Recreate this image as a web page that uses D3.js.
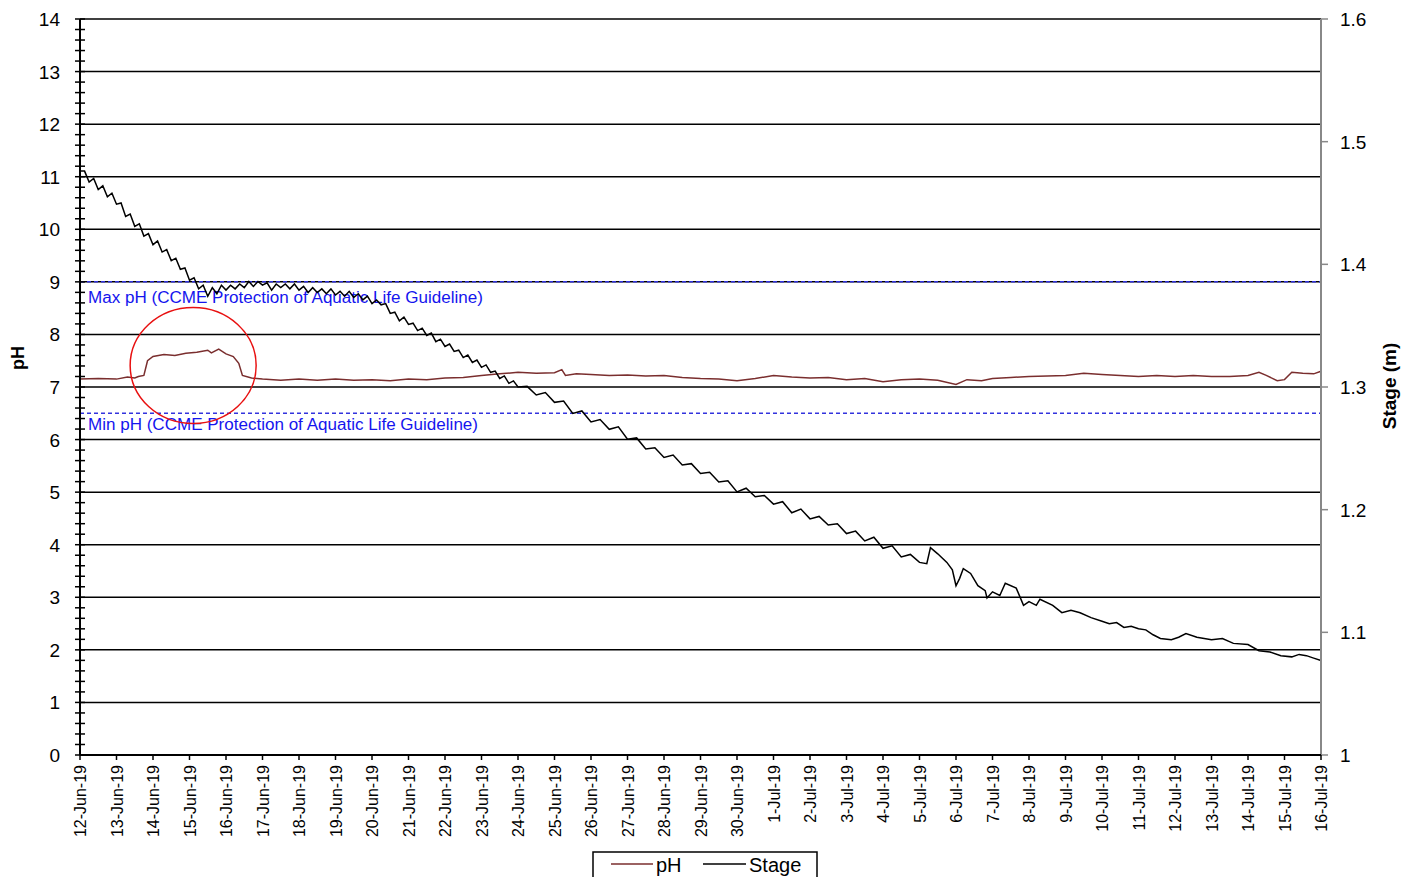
<!DOCTYPE html>
<html lang="en">
<head>
    <meta charset="UTF-8">
    <title>pH and Stage</title>
    <style>
        body { margin: 0; background: #fff; }
        text { font-family: "Liberation Sans", Arial, sans-serif; }
    </style>
</head>
<body>
    <script src="https://d3js.org/d3.v7.min.js"></script>
    <script>
        // Data: days after 12-Jun-19 00:00 and values
        var phDays = [0, 0.5, 1.0, 1.3, 1.5, 1.6, 1.75, 1.85, 2.0, 2.3, 2.6, 2.9, 3.2, 3.5, 3.6, 3.8, 4.0, 4.2, 4.35, 4.45, 4.7,
            5.0, 5.5, 6.0, 6.5, 7.0, 7.5, 8.0, 8.5, 9.0, 9.5, 10.0, 10.5, 11.0, 11.5, 12.0, 12.5, 13.0, 13.2, 13.3, 13.6,
            14.0, 14.5, 15.0, 15.5, 16.0, 16.5, 17.0, 17.5, 18.0, 18.5, 19.0, 19.5, 20.0, 20.5, 21.0, 21.5, 22.0, 22.5,
            23.0, 23.5, 24.0, 24.3, 24.7, 25.0, 25.5, 26.0, 26.5, 27.0, 27.5, 28.0, 28.5, 29.0, 29.5, 30.0, 30.5, 31.0,
            31.5, 32.0, 32.3, 32.5, 32.8, 33.0, 33.2, 33.5, 33.8, 34.0];
        var phValues = [7.15, 7.16, 7.15, 7.19, 7.17, 7.2, 7.22, 7.5, 7.58, 7.62, 7.6, 7.64, 7.66, 7.7, 7.65, 7.72, 7.63, 7.58, 7.45, 7.22, 7.17,
            7.15, 7.13, 7.15, 7.13, 7.15, 7.13, 7.14, 7.12, 7.15, 7.14, 7.17, 7.18, 7.22, 7.25, 7.28, 7.26, 7.27, 7.33, 7.22, 7.25,
            7.24, 7.22, 7.23, 7.21, 7.22, 7.18, 7.16, 7.15, 7.12, 7.16, 7.22, 7.19, 7.17, 7.18, 7.14, 7.16, 7.1, 7.14,
            7.15, 7.13, 7.05, 7.14, 7.12, 7.16, 7.18, 7.2, 7.21, 7.22, 7.26, 7.24, 7.22, 7.2, 7.22, 7.2, 7.22, 7.2,
            7.2, 7.22, 7.28, 7.22, 7.12, 7.14, 7.28, 7.26, 7.25, 7.3];

        var stageDays = [0, 0.125, 0.25, 0.375, 0.5, 0.625, 0.75, 0.875, 1, 1.125, 1.25, 1.375, 1.5, 1.625, 1.75, 1.875,
            2, 2.125, 2.25, 2.375, 2.5, 2.625, 2.75, 2.875, 3, 3.125, 3.25, 3.375, 3.5, 3.625, 3.75, 3.875,
            4, 4.125, 4.25, 4.375, 4.5, 4.625, 4.75, 4.875, 5, 5.125, 5.25, 5.375, 5.5, 5.625, 5.75, 5.875,
            6, 6.125, 6.25, 6.375, 6.5, 6.625, 6.75, 6.875, 7, 7.125, 7.25, 7.375, 7.5, 7.625, 7.75, 7.875,
            8, 8.125, 8.25, 8.375, 8.5, 8.625, 8.75, 8.875, 9, 9.125, 9.25, 9.375, 9.5, 9.625, 9.75, 9.875,
            10, 10.125, 10.25, 10.375, 10.5, 10.625, 10.75, 10.875, 11, 11.125, 11.25, 11.375, 11.5, 11.625, 11.75, 11.875,
            12, 12.25, 12.5, 12.75, 13, 13.25, 13.5, 13.75, 14, 14.25, 14.5, 14.75, 15, 15.25, 15.5, 15.75,
            16, 16.25, 16.5, 16.75, 17, 17.25, 17.5, 17.75, 18, 18.25, 18.5, 18.75, 19, 19.25, 19.5, 19.75,
            20, 20.25, 20.5, 20.75, 21, 21.25, 21.5, 21.75, 22, 22.25, 22.5, 22.75,
            23, 23.2, 23.3, 23.5, 23.75, 23.9, 24.0, 24.1, 24.2, 24.4, 24.6, 24.8, 24.85,
            25.0, 25.2, 25.35, 25.65, 25.85, 26.0, 26.2, 26.3, 26.65, 26.9, 27.15, 27.4, 27.7, 28.0, 28.2, 28.4,
            28.6, 28.8, 29.0, 29.2, 29.4, 29.6, 29.9, 30.1, 30.3, 30.6, 31.0, 31.3, 31.6, 32.0, 32.3, 32.6, 32.9,
            33.2, 33.4, 33.6, 33.8, 34.0];
        var stageValues = [1.476, 1.476, 1.467, 1.470, 1.461, 1.464, 1.455, 1.458, 1.449, 1.450, 1.439, 1.441, 1.431, 1.433, 1.423, 1.425,
            1.416, 1.419, 1.410, 1.412, 1.403, 1.405, 1.396, 1.397, 1.387, 1.389, 1.380, 1.383, 1.374, 1.381, 1.376, 1.383,
            1.379, 1.383, 1.380, 1.384, 1.381, 1.386, 1.382, 1.386, 1.383, 1.385, 1.379, 1.384, 1.381, 1.384, 1.380, 1.384,
            1.379, 1.382, 1.377, 1.381, 1.377, 1.380, 1.376, 1.380, 1.375, 1.378, 1.374, 1.378, 1.373, 1.376, 1.371, 1.374,
            1.368, 1.371, 1.367, 1.368, 1.360, 1.361, 1.354, 1.357, 1.351, 1.352, 1.346, 1.348, 1.342, 1.344, 1.337, 1.339,
            1.333, 1.335, 1.329, 1.330, 1.324, 1.326, 1.320, 1.322, 1.316, 1.318, 1.312, 1.313, 1.307, 1.309, 1.303, 1.305,
            1.300, 1.3005, 1.2935, 1.2955, 1.2875, 1.2885, 1.2785, 1.2805, 1.2715, 1.2735, 1.2655, 1.2675, 1.2575, 1.2585, 1.2495, 1.2505,
            1.2425, 1.2445, 1.2365, 1.2375, 1.2295, 1.2305, 1.2225, 1.2235, 1.2145, 1.2175, 1.2105, 1.2115, 1.2045, 1.2065, 1.1975, 1.2005,
            1.1925, 1.1945, 1.1875, 1.1885, 1.1805, 1.1825, 1.1745, 1.1775, 1.1685, 1.1705, 1.1615, 1.1635,
            1.157, 1.156, 1.169, 1.164, 1.157, 1.151, 1.138, 1.144, 1.152, 1.148, 1.138, 1.134, 1.128,
            1.133, 1.130, 1.140, 1.136, 1.122, 1.125, 1.122, 1.127, 1.122, 1.116, 1.118, 1.116, 1.112, 1.109, 1.107, 1.108,
            1.104, 1.105, 1.103, 1.102, 1.098, 1.095, 1.094, 1.096, 1.099, 1.096, 1.094, 1.095, 1.091, 1.090, 1.085, 1.084, 1.081,
            1.080, 1.082, 1.081, 1.079, 1.077];

        var phTicks = [0, 1, 2, 3, 4, 5, 6, 7, 8, 9, 10, 11, 12, 13, 14];
        var stageTicks = [1, 1.1, 1.2, 1.3, 1.4, 1.5, 1.6];
        var phMax = 9, phMin = 6.5;
        var maxLabel = "Max pH (CCME Protection of Aquatic Life Guideline)";
        var minLabel = "Min pH (CCME  Protection of Aquatic Life Guideline)";

        var width = 1411, height = 877;
        var plotLeft = 80, plotRight = 1321, plotTop = 19, plotBottom = 755;

        var start = new Date(2019, 5, 12);
        var end = new Date(2019, 6, 16);
        function toDate(d) { return new Date(start.getTime() + d * 864e5); }

        var x = d3.scaleTime().domain([start, end]).range([plotLeft, plotRight]);
        var yPh = d3.scaleLinear().domain([0, 14]).range([plotBottom, plotTop]);
        var yStage = d3.scaleLinear().domain([1, 1.6]).range([plotBottom, plotTop]);

        var svg = d3.select("body").append("svg")
            .attr("width", width)
            .attr("height", height);

        // gridlines at each pH unit
        svg.append("g").selectAll("line")
            .data(phTicks.filter(function (d) { return d > 0; }))
            .enter().append("line")
            .attr("x1", plotLeft).attr("x2", plotRight)
            .attr("y1", function (d) { return yPh(d); })
            .attr("y2", function (d) { return yPh(d); })
            .attr("stroke", "#000")
            .attr("stroke-width", 1.5);

        // guideline lines
        [phMax, phMin].forEach(function (v) {
            svg.append("line")
                .attr("x1", plotLeft).attr("x2", plotRight)
                .attr("y1", yPh(v)).attr("y2", yPh(v))
                .attr("stroke", "#3333dd")
                .attr("stroke-width", 1.5)
                .attr("stroke-dasharray", "4,3");
        });

        svg.append("text")
            .attr("x", 88).attr("y", yPh(phMax) + 21)
            .attr("fill", "#1515ee")
            .attr("font-size", 16)
            .attr("textLength", 395).attr("lengthAdjust", "spacingAndGlyphs")
            .text(maxLabel);
        svg.append("text")
            .attr("x", 88).attr("y", yPh(phMin) + 17)
            .attr("fill", "#1515ee")
            .attr("font-size", 16)
            .attr("textLength", 390).attr("lengthAdjust", "spacingAndGlyphs")
            .text(minLabel);

        // lines
        var phLine = d3.line()
            .x(function (d, i) { return x(toDate(phDays[i])); })
            .y(function (d) { return yPh(d); });
        var stageLine = d3.line()
            .x(function (d, i) { return x(toDate(stageDays[i])); })
            .y(function (d) { return yStage(d); });

        svg.append("path")
            .attr("d", phLine(phValues))
            .attr("fill", "none")
            .attr("stroke", "#7a2e2e")
            .attr("stroke-width", 1.5);

        svg.append("path")
            .attr("d", stageLine(stageValues))
            .attr("fill", "none")
            .attr("stroke", "#000")
            .attr("stroke-width", 1.5);

        // red circle around the pH bump
        svg.append("ellipse")
            .attr("cx", x(toDate(3.1)))
            .attr("cy", yPh(7.41))
            .attr("rx", 63).attr("ry", 58)
            .attr("fill", "none")
            .attr("stroke", "#e81010")
            .attr("stroke-width", 1.5);

        // left axis
        var leftAxis = svg.append("g");
        leftAxis.append("line")
            .attr("x1", plotLeft).attr("x2", plotLeft).attr("y1", plotTop).attr("y2", plotBottom)
            .attr("stroke", "#000").attr("stroke-width", 2);
        leftAxis.selectAll("line.minor")
            .data(d3.range(0, 70.5, 1).map(function (d) { return d / 5; }))
            .enter().append("line")
            .attr("class", "minor")
            .attr("x1", plotLeft - 5).attr("x2", plotLeft + 5)
            .attr("y1", function (d) { return yPh(d); })
            .attr("y2", function (d) { return yPh(d); })
            .attr("stroke", "#000").attr("stroke-width", 1.5);
        leftAxis.selectAll("text")
            .data(phTicks)
            .enter().append("text")
            .attr("x", 60).attr("y", function (d) { return yPh(d) + 7; })
            .attr("text-anchor", "end")
            .attr("font-size", 19)
            .text(function (d) { return d; });

        // right axis
        var rightAxis = svg.append("g");
        rightAxis.append("line")
            .attr("x1", plotRight).attr("x2", plotRight).attr("y1", plotTop).attr("y2", plotBottom)
            .attr("stroke", "#888").attr("stroke-width", 2);
        rightAxis.selectAll("line.tick")
            .data(stageTicks)
            .enter().append("line")
            .attr("class", "tick")
            .attr("x1", plotRight).attr("x2", plotRight + 7)
            .attr("y1", function (d) { return yStage(d); })
            .attr("y2", function (d) { return yStage(d); })
            .attr("stroke", "#888").attr("stroke-width", 1.5);
        rightAxis.selectAll("text")
            .data(stageTicks)
            .enter().append("text")
            .attr("x", 1340).attr("y", function (d) { return yStage(d) + 7; })
            .attr("font-size", 19)
            .text(function (d) { return d3.format(".1~f")(d); });

        // bottom axis
        var dayTicks = x.ticks(d3.timeDay.every(1));
        var fmt = d3.timeFormat("%-d-%b-%y");
        var bottomAxis = svg.append("g");
        bottomAxis.append("line")
            .attr("x1", plotLeft).attr("x2", plotRight).attr("y1", plotBottom).attr("y2", plotBottom)
            .attr("stroke", "#000").attr("stroke-width", 2);
        bottomAxis.selectAll("line.tick")
            .data(dayTicks)
            .enter().append("line")
            .attr("class", "tick")
            .attr("x1", function (d) { return x(d); })
            .attr("x2", function (d) { return x(d); })
            .attr("y1", plotBottom).attr("y2", plotBottom + 5)
            .attr("stroke", "#000").attr("stroke-width", 1.5);
        bottomAxis.selectAll("text")
            .data(dayTicks)
            .enter().append("text")
            .attr("transform", function (d) { return "translate(" + (x(d) + 6) + "," + (plotBottom + 10) + ") rotate(-90)"; })
            .attr("text-anchor", "end")
            .attr("font-size", 16)
            .text(function (d) { return fmt(d); });

        // axis titles
        svg.append("text")
            .attr("transform", "translate(24,358) rotate(-90)")
            .attr("text-anchor", "middle")
            .attr("font-size", 18).attr("font-weight", "bold")
            .text("pH");
        svg.append("text")
            .attr("transform", "translate(1396,386) rotate(-90)")
            .attr("text-anchor", "middle")
            .attr("font-size", 19).attr("font-weight", "bold")
            .text("Stage (m)");

        // legend
        var legend = svg.append("g");
        legend.append("rect")
            .attr("x", 593).attr("y", 852).attr("width", 224).attr("height", 32)
            .attr("fill", "#fff").attr("stroke", "#000").attr("stroke-width", 1.5);
        legend.append("line")
            .attr("x1", 611).attr("x2", 653).attr("y1", 864).attr("y2", 864)
            .attr("stroke", "#7a2e2e").attr("stroke-width", 1.5);
        legend.append("text").attr("x", 656).attr("y", 872).attr("font-size", 20).text("pH");
        legend.append("line")
            .attr("x1", 703).attr("x2", 746).attr("y1", 864).attr("y2", 864)
            .attr("stroke", "#000").attr("stroke-width", 1.5);
        legend.append("text").attr("x", 749).attr("y", 872).attr("font-size", 20).text("Stage");
    </script>
</body>
</html>
